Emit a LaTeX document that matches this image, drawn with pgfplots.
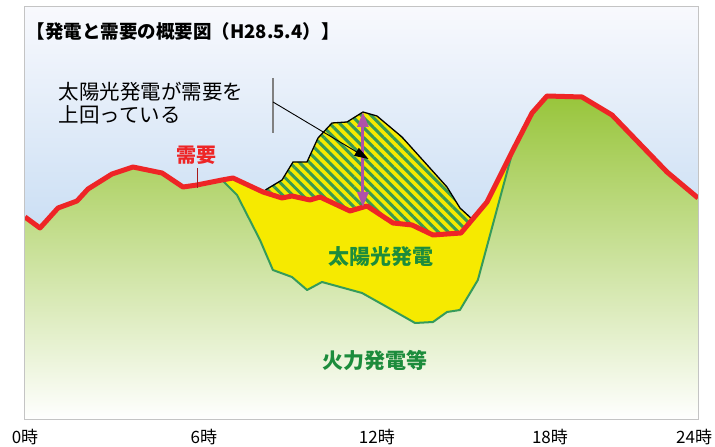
\documentclass[border=0pt]{standalone}
\usepackage{fontspec}
\setmainfont{Noto Sans CJK JP}
\usepackage{pgfplots}
\pgfplotsset{compat=1.18}
\usetikzlibrary{patterns.meta,arrows.meta}
\definecolor{skytop}{HTML}{F8F9FD}
\definecolor{skymid}{HTML}{AECDEE}
\definecolor{skybot}{HTML}{A4C8EC}
\definecolor{grtop}{HTML}{98C53B}
\definecolor{grmid}{HTML}{CDE2AA}
\definecolor{solar}{HTML}{F6EA00}
\definecolor{edgegreen}{HTML}{359B5B}
\definecolor{hatchgreen}{HTML}{3A9A52}
\definecolor{demandred}{HTML}{EE2526}
\definecolor{textgreen}{HTML}{1C8C3C}
\definecolor{arrowmag}{HTML}{B052A8}
\definecolor{framegray}{HTML}{C4C4C4}
\begin{document}
\begin{tikzpicture}
\useasboundingbox (-25pt,-27pt) rectangle (690pt,420pt);
\begin{axis}[at={(0,0)}, anchor=south west, scale only axis,
  width=673pt, height=413pt,
  xmin=0, xmax=24, ymin=0, ymax=413,
  axis line style={draw=framegray, line width=1pt},
  ytick=\empty,
  xtick={0,6.38,12.55,18.72,23.86},
  xticklabels={0時,6時,12時,18時,24時},
  major tick length=0pt,
  xticklabel style={font=\fontsize{17}{17}\selectfont, anchor=center, yshift=-17pt},
  axis background/.style={shade, top color=skytop, middle color=skymid, bottom color=skybot},
  axis on top]
% thermal etc. (green area)
\addplot[draw=none, shade, top color=grtop, middle color=grmid, bottom color=white] coordinates {
(0,203) (0.535,192) (1.177,212) (1.854,219) (2.247,231) (3.102,246) (3.851,253) (4.886,247) (5.634,233) (6.134,235) (7.025,240)
(7.56,225) (8.38,180) (8.84,150) (9.52,143) (10.06,130) (10.59,138) (12.02,127) (12.91,113) (13.91,97) (14.55,98) (15.05,108) (15.51,110) (16.15,140)
(17.402,270) (18.080,307) (18.615,324) (19.863,323) (20.933,305) (22.894,248) (24,222)} \closedcycle;
% solar (yellow) below demand
\addplot[draw=none, fill=solar] coordinates {
(7.025,240) (7.417,242) (8.487,228) (9.165,222) (9.521,224) (10.163,220) (10.520,223) (11.590,209) (12.196,214) (13.123,197) (13.801,195) (14.550,185) (15.548,187) (16.475,218) (17.402,270)
(16.15,140) (15.51,110) (15.05,108) (14.55,98) (13.91,97) (12.91,113) (12.02,127) (10.59,138) (10.06,130) (9.52,143) (8.84,150) (8.38,180) (7.56,225)} -- cycle;
% solar exceeding demand (hatched)
\addplot[draw=none, fill=solar, postaction={pattern={Lines[angle=-45,distance=7pt,line width=3pt]}, pattern color=hatchgreen}] coordinates {
(8.487,228) (8.63,231) (9.165,240) (9.557,258) (10.056,258) (10.448,282) (10.948,297) (11.483,298) (12.053,308) (12.552,304) (13.444,283) (15.049,233) (15.512,212) (15.92,201.5)
(15.548,187) (14.550,185) (13.801,195) (13.123,197) (12.196,214) (11.590,209) (10.520,223) (10.163,220) (9.521,224) (9.165,222)} -- cycle;
\addplot[black, line width=1.3pt, line join=round] coordinates {
(8.487,228) (8.63,231) (9.165,240) (9.557,258) (10.056,258) (10.448,282) (10.948,297) (11.483,298) (12.053,308) (12.552,304) (13.444,283) (15.049,233) (15.512,212) (15.92,201.5)};
% green edge
\addplot[edgegreen, line width=2pt, line join=round] coordinates {
(7.025,240) (7.56,225) (8.38,180) (8.84,150) (9.52,143) (10.06,130) (10.59,138) (12.02,127) (12.91,113) (13.91,97) (14.55,98) (15.05,108) (15.51,110) (16.15,140) (17.402,270)};
% demand
\addplot[demandred, line width=5pt, line join=round] coordinates {
(0,203) (0.535,192) (1.177,212) (1.854,219) (2.247,231) (3.102,246) (3.851,253) (4.886,247) (5.634,233) (6.134,235) (7.025,240) (7.417,242) (8.487,228) (9.165,222) (9.521,224) (10.163,220) (10.520,223) (11.590,209) (12.196,214) (13.123,197) (13.801,195) (14.550,185) (15.548,187) (16.475,218) (17.402,270) (18.080,307) (18.615,324) (19.863,323) (20.933,305) (22.894,248) (24,222)};
% annotations
\draw[arrowmag, line width=3pt, {Triangle[width=11pt,length=15pt]}-{Triangle[width=11pt,length=15pt]}] (axis cs:12.05,308) -- (axis cs:12.05,213);
\draw[gray, line width=1.2pt] (axis cs:8.844,342) -- (axis cs:8.844,287);
\draw[black, line width=0.9pt, -{Triangle[width=9pt,length=14pt]}] (axis cs:8.844,318) -- (axis cs:12.25,261);
\draw[demandred!70!black, line width=1pt] (axis cs:6.134,252) -- (axis cs:6.134,232);
\node[anchor=west, inner sep=0pt, font=\fontsize{18.5}{18.5}\selectfont\bfseries] at (axis cs:0.06,389) {【発電と需要の概要図（H28.5.4）】};
\node[anchor=west, inner sep=0pt, font=\fontsize{20.5}{20.5}\selectfont] at (axis cs:1.2,328) {太陽光発電が需要を};
\node[anchor=west, inner sep=0pt, font=\fontsize{20.5}{20.5}\selectfont] at (axis cs:1.2,305) {上回っている};
\node[inner sep=0pt, text=demandred, font=\fontsize{20}{20}\selectfont\bfseries] at (axis cs:6.10,265) {需要};
\node[inner sep=0pt, text=textgreen, font=\fontsize{21}{21}\selectfont\bfseries] at (axis cs:12.70,163) {太陽光発電};
\node[inner sep=0pt, text=textgreen, font=\fontsize{21}{21}\selectfont\bfseries] at (axis cs:12.48,60) {火力発電等};
\end{axis}
\end{tikzpicture}
\end{document}
